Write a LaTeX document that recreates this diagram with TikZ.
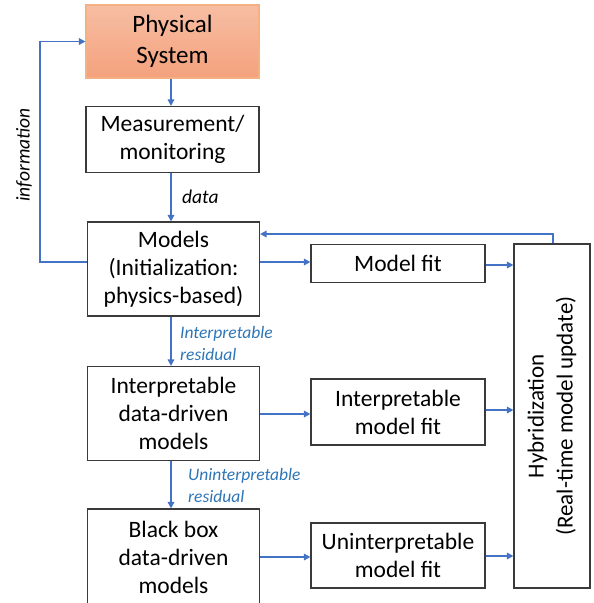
\documentclass[tikz,border=0pt]{standalone}
\usepackage{fontspec}
\setmainfont{Carlito}
\usetikzlibrary{arrows.meta}
\definecolor{flowblue}{HTML}{4472C4}
\definecolor{labelblue}{HTML}{2E75B6}
\definecolor{boxline}{HTML}{3A3A3A}
\definecolor{salmontop}{HTML}{F7BEA3}
\definecolor{salmonbot}{HTML}{F4A17D}
\definecolor{salmonline}{HTML}{F4B183}
\begin{document}
\begin{tikzpicture}[x=1pt,y=-1pt,
  box/.style={draw=boxline, line width=1.1pt, fill=white, align=center,
    inner sep=0pt, font=\fontsize{23.5}{28}\selectfont},
  flow/.style={draw=flowblue, line width=1.5pt,
    -{Triangle[length=6.5pt,width=6.5pt]}},
  edgelabel/.style={font=\fontsize{19.5}{22}\selectfont\itshape, inner sep=0pt},
  residlabel/.style={font=\fontsize{17.5}{22}\selectfont\itshape, text=labelblue,
    align=left, inner sep=0pt, anchor=west}]
\clip (0,0) rectangle (594,603);

% main column
\node[box, draw=salmonline, top color=salmontop, bottom color=salmonbot,
  minimum width=173pt, minimum height=73pt, font=\fontsize{25}{31}\selectfont]
  (ps) at (172.5,41.5) {Physical\\System};
\node[box, minimum width=173pt, minimum height=66pt] (meas) at (172.5,139.5)
  {Measurement/\\monitoring};
\node[box, minimum width=172pt, minimum height=94pt] (models) at (173.5,269)
  {Models\\(Initialization:\\physics-based)};
\node[box, minimum width=172pt, minimum height=94pt] (interp) at (173.5,413.5)
  {Interpretable\\data-driven\\models};
\node[box, minimum width=172pt, minimum height=96pt] (black) at (173.5,557)
  {Black box\\data-driven\\models};

% fit column
\node[box, minimum width=174pt, minimum height=38pt] (fit1) at (398,263.5)
  {Model fit};
\node[box, minimum width=174pt, minimum height=66pt] (fit2) at (398,412)
  {Interpretable\\model fit};
\node[box, minimum width=174pt, minimum height=65pt] (fit3) at (398,555.5)
  {Uninterpretable\\model fit};

% hybridization block
\node[box, minimum width=76pt, minimum height=344pt] (hyb) at (552,416) {};
\node[rotate=90, align=center, font=\fontsize{23}{29}\selectfont] (hybtext)
  at (hyb.center) {Hybridization\\(Real-time model update)};

% vertical flow
\draw[flow] (ps.south -| 171,0) -- (meas.north -| 171,0);
\draw[flow] (meas.south -| 171,0) -- (models.north -| 171,0);
\draw[flow] (models.south -| 171,0) -- (interp.north -| 171,0);
\draw[flow] (interp.south -| 171,0) -- (black.north -| 171,0);

\node[edgelabel, anchor=west] (datalbl) at (182,197) {data};
\node[residlabel] (res1) at (180,343) {Interpretable\\residual};
\node[residlabel] (res2) at (188,485) {Uninterpretable\\residual};

% horizontal flow to fits and hybridization
\draw[flow] (models.east |- 0,262) -- (fit1.west |- 0,262);
\draw[flow] (interp.east |- 0,414) -- (fit2.west |- 0,414);
\draw[flow] (black.east |- 0,557) -- (fit3.west |- 0,557);
\draw[flow] (fit1.east |- 0,265) -- (hyb.west |- 0,265);
\draw[flow] (fit2.east |- 0,410) -- (hyb.west |- 0,410);
\draw[flow] (fit3.east |- 0,556) -- (hyb.west |- 0,556);

% feedback from hybridization to models
\coordinate (fb) at (553,234);
\draw[flow] (hyb.north -| fb) -- (fb) -- (models.east |- fb);

% information loop back to the physical system
\coordinate (infoc) at (40,150);
\draw[flow] (models.west |- 0,262) -| (infoc) |- (ps.west);
\node[edgelabel, rotate=90] (infolbl) at (24,155) {information};
\end{tikzpicture}
\end{document}
